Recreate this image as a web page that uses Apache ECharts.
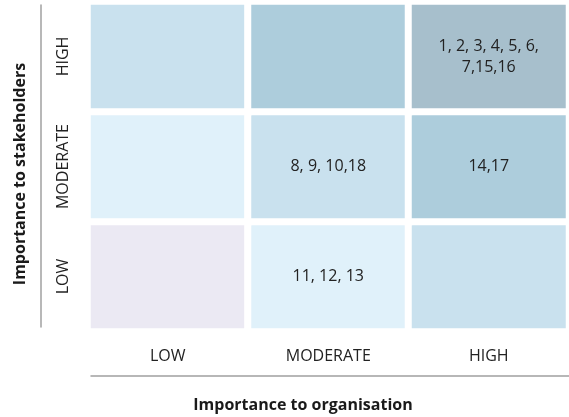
<!DOCTYPE html>
<html>
<head>
<meta charset="utf-8">
<script src="https://cdn.jsdelivr.net/npm/echarts@6/dist/echarts.min.js"></script>
<style>
  html, body { margin: 0; padding: 0; background: #fff; }
  #chart { width: 569px; height: 417px; }
</style>
</head>
<body>
<div id="chart"></div>
<script>
// ------------------------------------------------------------
// Data
// ------------------------------------------------------------

const orgLevels = ["LOW", "MODERATE", "HIGH"];
const stakeholderLevels = ["LOW", "MODERATE", "HIGH"];

// [org index, stakeholder index, priority score, issue numbers]
const cells = [
  [0, 0, 0, ""],
  [1, 0, 1, "11, 12, 13"],
  [2, 0, 2, ""],
  [0, 1, 1, ""],
  [1, 1, 2, "8, 9, 10,18"],
  [2, 1, 3, "14,17"],
  [0, 2, 2, ""],
  [1, 2, 3, ""],
  [2, 2, 4, "1, 2, 3, 4, 5, 6,\n7,15,16"],
];

const scoreColors = ["#ebe9f3", "#e0f1fa", "#c9e1ee", "#adcddc", "#a7bfcc"];

const FONT = "'Open Sans', 'Noto Sans', sans-serif";

// ------------------------------------------------------------
// Chart
// ------------------------------------------------------------

const chart = echarts.init(document.getElementById("chart"));

const lineAxis = {
  type: "category",
  gridIndex: 1,
  axisLine: { show: true, lineStyle: { color: "#a0a0a0", width: 1.5 } },
  axisTick: { show: false },
  axisLabel: { show: false },
  splitLine: { show: false },
};

chart.setOption({
  animation: false,
  textStyle: { fontFamily: FONT },
  grid: [
    { left: 87.5, right: -3.5, top: 1.5, bottom: 85.5 },
    { left: 91, right: 0, top: 5, bottom: 90 },
  ],
  xAxis: [
    {
      type: "category",
      data: orgLevels,
      axisLine: { show: false },
      axisTick: { show: false },
      splitLine: { show: false },
      axisLabel: { interval: 0, hideOverlap: false, margin: 17, fontSize: 16, color: "#222", fontFamily: FONT },
    },
    { ...lineAxis, data: orgLevels, position: "bottom", offset: 49 },
  ],
  yAxis: [
    {
      type: "category",
      data: stakeholderLevels,
      axisLine: { show: false },
      axisTick: { show: false },
      splitLine: { show: false },
      axisLabel: { interval: 0, hideOverlap: false, rotate: 90, margin: 16, fontSize: 16, color: "#222", fontFamily: FONT },
    },
    { ...lineAxis, data: stakeholderLevels, position: "left", offset: 50 },
  ],
  visualMap: {
    show: false,
    type: "piecewise",
    dimension: 2,
    seriesIndex: 0,
    pieces: scoreColors.map((c, i) => ({ value: i, color: c })),
  },
  series: [
    {
      type: "heatmap",
      data: cells.map((c) => ({ value: [c[0], c[1], c[2]], issues: c[3] })),
      itemStyle: { borderColor: "#fff", borderWidth: 7 },
      emphasis: { disabled: true },
      label: {
        show: true,
        fontSize: 16,
        color: "#222",
        fontFamily: FONT,
        lineHeight: 21,
        formatter: (p) => p.data.issues,
      },
    },
  ],
  graphic: [
    {
      type: "text",
      x: 303,
      y: 405,
      style: {
        text: "Importance to organisation",
        font: "bold 16px " + FONT,
        fill: "#1a1a1a",
        align: "center",
        verticalAlign: "middle",
      },
    },
    {
      type: "text",
      x: 20,
      y: 174,
      rotation: Math.PI / 2,
      style: {
        text: "Importance to stakeholders",
        font: "bold 16px " + FONT,
        fill: "#1a1a1a",
        align: "center",
        verticalAlign: "middle",
      },
    },
  ],
});
</script>
</body>
</html>
